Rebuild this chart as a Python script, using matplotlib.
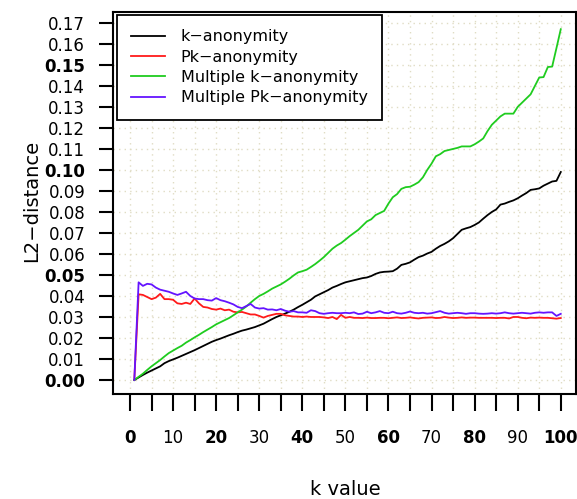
import matplotlib
matplotlib.use("Agg")
import matplotlib.pyplot as plt
import numpy as np

plt.rcParams['font.family'] = ['DejaVu Sans']

k_values = list(range(1, 101))

k_anon = [0, 0.0012, 0.0024, 0.0035, 0.0045, 0.0055, 0.0065, 0.0080, 0.0090, 0.0098,
          0.0106, 0.0115, 0.0124, 0.0133, 0.0142, 0.0152, 0.0162, 0.0172, 0.0182, 0.0190,
          0.0197, 0.0205, 0.0213, 0.0220, 0.0228, 0.0235, 0.0240, 0.0246, 0.0252, 0.0260,
          0.0268, 0.0279, 0.0290, 0.0300, 0.0308, 0.0316, 0.0325, 0.0335, 0.0347, 0.0358,
          0.0370, 0.0382, 0.0398, 0.0408, 0.0418, 0.0428, 0.0440, 0.0448, 0.0457, 0.0465,
          0.0470, 0.0475, 0.0480, 0.0485, 0.0488, 0.0495, 0.0505, 0.0512, 0.0515, 0.0516,
          0.0518, 0.0530, 0.0548, 0.0553, 0.0560, 0.0573, 0.0585, 0.0592, 0.0602, 0.0610,
          0.0625, 0.0638, 0.0648, 0.0660, 0.0675, 0.0695, 0.0715, 0.0722, 0.0728, 0.0738,
          0.0750, 0.0768, 0.0785, 0.0800, 0.0812, 0.0835, 0.0840, 0.0848, 0.0855, 0.0865,
          0.0878, 0.0890, 0.0905, 0.0908, 0.0912, 0.0925, 0.0935, 0.0945, 0.0948, 0.0990]

pk_anon = [0, 0.0408, 0.0405, 0.0395, 0.0385, 0.0392, 0.0410, 0.0385, 0.0385, 0.0382,
           0.0365, 0.0362, 0.0368, 0.0362, 0.0388, 0.0365, 0.0348, 0.0345, 0.0338, 0.0335,
           0.0340, 0.0332, 0.0335, 0.0325, 0.0322, 0.0324, 0.0318, 0.0312, 0.0312, 0.0305,
           0.0297, 0.0305, 0.0310, 0.0315, 0.0315, 0.0308, 0.0305, 0.0302, 0.0302, 0.0300,
           0.0302, 0.0300, 0.0300, 0.0300, 0.0298, 0.0295, 0.0300, 0.0290, 0.0310, 0.0296,
           0.0300, 0.0296, 0.0296, 0.0295, 0.0297, 0.0295, 0.0295, 0.0296, 0.0296, 0.0294,
           0.0296, 0.0298, 0.0295, 0.0296, 0.0298, 0.0295, 0.0293, 0.0296, 0.0297, 0.0298,
           0.0295, 0.0296, 0.0300, 0.0297, 0.0295, 0.0296, 0.0298, 0.0296, 0.0297, 0.0297,
           0.0296, 0.0296, 0.0296, 0.0296, 0.0295, 0.0296, 0.0296, 0.0293, 0.0300, 0.0300,
           0.0296, 0.0294, 0.0297, 0.0296, 0.0297, 0.0296, 0.0296, 0.0294, 0.0292, 0.0295]

multi_k = [0, 0.0015, 0.0030, 0.0048, 0.0065, 0.0080, 0.0095, 0.0112, 0.0128, 0.0140,
           0.0152, 0.0163, 0.0178, 0.0190, 0.0203, 0.0215, 0.0228, 0.0240, 0.0252, 0.0265,
           0.0275, 0.0285, 0.0295, 0.0308, 0.0322, 0.0335, 0.0350, 0.0368, 0.0385, 0.0400,
           0.0410, 0.0422, 0.0435, 0.0445, 0.0455, 0.0468, 0.0482, 0.0498, 0.0512, 0.0518,
           0.0525, 0.0538, 0.0552, 0.0568, 0.0585, 0.0605, 0.0625, 0.0640, 0.0652, 0.0668,
           0.0685, 0.0700, 0.0715, 0.0735, 0.0755, 0.0765, 0.0785, 0.0795, 0.0805, 0.0840,
           0.0870, 0.0885, 0.0910, 0.0918, 0.0920, 0.0930, 0.0942, 0.0965, 0.1000, 0.1030,
           0.1065, 0.1075, 0.1090, 0.1095, 0.1100, 0.1105, 0.1112, 0.1112, 0.1112, 0.1122,
           0.1135, 0.1150, 0.1185, 0.1215, 0.1235, 0.1255, 0.1268, 0.1268, 0.1268, 0.1300,
           0.1320, 0.1340, 0.1360, 0.1400, 0.1440, 0.1442, 0.1490, 0.1492, 0.1580, 0.1670]

multi_pk = [0, 0.0465, 0.0448, 0.0458, 0.0455, 0.0440, 0.0430, 0.0425, 0.0420, 0.0412,
            0.0405, 0.0412, 0.0420, 0.0400, 0.0388, 0.0385, 0.0385, 0.0380, 0.0378, 0.0390,
            0.0380, 0.0375, 0.0368, 0.0360, 0.0348, 0.0342, 0.0352, 0.0362, 0.0345, 0.0340,
            0.0342, 0.0335, 0.0336, 0.0332, 0.0338, 0.0330, 0.0325, 0.0328, 0.0322, 0.0322,
            0.0320, 0.0332, 0.0328, 0.0318, 0.0315, 0.0318, 0.0320, 0.0318, 0.0318, 0.0320,
            0.0318, 0.0322, 0.0314, 0.0316, 0.0325, 0.0318, 0.0322, 0.0328, 0.0320, 0.0318,
            0.0325, 0.0318, 0.0316, 0.0320, 0.0326, 0.0320, 0.0318, 0.0320, 0.0316, 0.0318,
            0.0323, 0.0328, 0.0320, 0.0316, 0.0318, 0.0320, 0.0318, 0.0315, 0.0318, 0.0318,
            0.0316, 0.0315, 0.0316, 0.0318, 0.0316, 0.0318, 0.0322, 0.0318, 0.0316, 0.0318,
            0.0320, 0.0318, 0.0316, 0.0320, 0.0322, 0.0320, 0.0322, 0.0322, 0.0305, 0.0315]

series_names = ["k\u2212anonymity", "Pk\u2212anonymity", "Multiple k\u2212anonymity", "Multiple Pk\u2212anonymity"]
series_colors = ["#000000", "#ff1a1a", "#1fcc1f", "#6414ff"]

x_ticks = list(range(0, 101, 5))
x_labels = {0: "0", 10: "10", 20: "20", 30: "30", 40: "40", 50: "50",
            60: "60", 70: "70", 80: "80", 90: "90", 100: "100"}
y_ticks = [i / 100 for i in range(0, 18)]

fig = plt.figure(figsize=(5.77, 4.99), dpi=100)
ax = fig.add_axes([0.1958, 0.2104, 0.8022, 0.7656])

# grid
for xt in x_ticks:
    ax.axvline(xt, color="#e0dcc4", lw=1.0, ls=(0, (1, 3)), zorder=0)
for yt in y_ticks:
    ax.axhline(yt, color="#e0dcc4", lw=1.0, ls=(0, (1, 3)), zorder=0)

for vals, name, col in zip([k_anon, pk_anon, multi_k, multi_pk], series_names, series_colors):
    ax.plot(k_values, vals, color=col, lw=1.3, label=name, zorder=3)

ax.set_xlim(-3.95, 103.5)
ax.set_ylim(-0.00667, 0.1752)

ax.set_xticks(x_ticks)
ax.set_xticklabels([x_labels.get(t, "") for t in x_ticks])
ax.set_yticks(y_ticks)
ax.set_yticklabels(["%.2f" % v for v in y_ticks])

ax.tick_params(axis="x", direction="out", length=12, width=1.5, pad=13, labelsize=12)
ax.tick_params(axis="y", direction="out", length=10, width=1.5, pad=10, labelsize=12)

for lbl in ax.get_xticklabels():
    t = lbl.get_text()
    if t in ("0", "20", "40", "60", "80", "100"):
        lbl.set_fontweight("bold")
for lbl in ax.get_yticklabels():
    t = lbl.get_text()
    if t in ("0.00", "0.05", "0.10", "0.15"):
        lbl.set_fontweight("bold")

for s in ax.spines.values():
    s.set_linewidth(1.5)

fig.text(0.598, 0.008, "k value", fontsize=14, ha="center", va="baseline")
fig.text(0.0555, 0.597, "L2\u2212distance", fontsize=14, ha="center", va="center", rotation=90)

leg = ax.legend(loc="upper left", bbox_to_anchor=(0.008, 0.992), fontsize=11.5,
                frameon=True, fancybox=False, handlelength=2.1, handletextpad=1.0,
                borderpad=0.9, labelspacing=0.33, borderaxespad=0)
leg.get_frame().set_edgecolor("black")
leg.get_frame().set_linewidth(1.3)
leg.get_frame().set_alpha(1)

fig.savefig("out.png", dpi=100)
